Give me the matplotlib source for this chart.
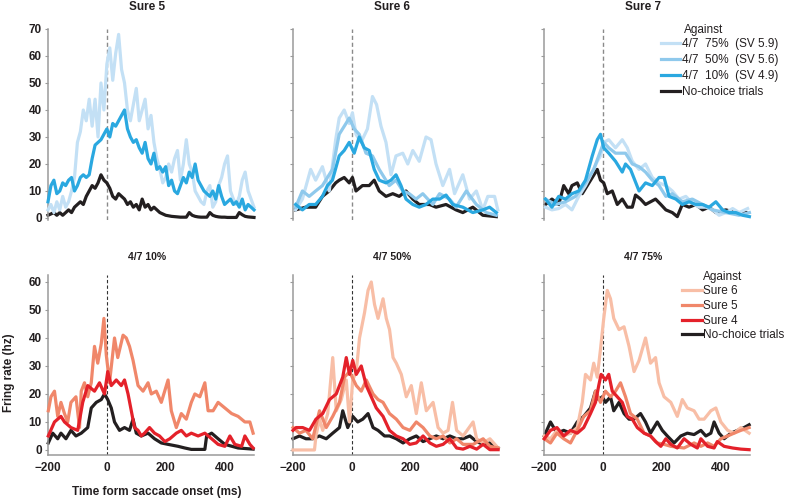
import matplotlib
matplotlib.use("Agg")
import matplotlib.pyplot as plt
from matplotlib.lines import Line2D

plt.rcParams['font.family'] = ['Liberation Sans', 'DejaVu Sans']

# ---------------- DATA (time in ms, firing rate in Hz) ----------------
# Top row, panel "Sure 5" (10 ms grid)
s5_t = list(range(-200, 510, 10))
s5_75 = [3, 5, 2, 6, 3, 8, 4, 6, 10, 15,
         28, 32, 40, 36, 44, 34, 44, 30, 50, 40,
         57, 63, 51, 61, 68, 55, 50, 40, 36, 42,
         48, 36, 40, 44, 33, 38, 28, 22, 18, 13,
         15, 20, 17, 22, 25, 14, 20, 29, 20, 17,
         10, 8, 6, 5, 10, 12, 4, 6, 12, 15,
         20, 23, 10, 7, 5, 8, 14, 17, 10, 7,
         4]
s5_10 = [6, 12, 14, 9, 10, 13, 12, 14, 15, 10,
         12, 15, 16, 15, 16, 22, 27, 28, 29, 31,
         33, 30, 35, 34, 36, 38, 40, 33, 30, 28,
         29, 26, 24, 28, 22, 20, 24, 18, 19, 17,
         19, 12, 14, 10, 9, 12, 15, 13, 17, 15,
         20, 14, 12, 10, 9, 8, 10, 7, 12, 8,
         5, 6, 7, 5, 6, 4, 7, 3, 5, 4,
         3]
s5_nc = [1, 1.5, 2, 1, 2, 1, 2, 3, 2, 4,
         5, 6, 5, 8, 10, 12, 11, 13, 16, 14,
         13, 11, 8, 7, 9, 8, 7, 5, 6, 4,
         5, 3, 7, 4, 5, 3, 4, 3, 2, 1.5,
         1, 0.8, 0.6, 0.5, 0.4, 0.3, 0.3, 0.3, 2, 1,
         0.6, 0.4, 0.3, 0.3, 0.3, 2, 1, 0.6, 0.4, 0.3,
         0.3, 0.2, 0.2, 0.2, 0.2, 2, 1.2, 0.6, 0.4, 0.3,
         0.2]

# Top row, panel "Sure 6"
s6_75_t = [-191, -168, -140, -123, -100, -77, -55, -43, -26, -9, 2, 14, 31, 53, 70, 84, 99, 116, 133,
           150, 173, 190, 207, 229, 252, 269, 286, 309, 332, 349, 377, 400, 423, 445, 462, 485, 496]
s6_75 = [3, 7, 18, 14, 19, 10, 29, 37, 40, 35, 39, 31, 28, 33, 45, 42, 34, 28, 16,
         23, 24, 20, 25, 21, 30, 29, 20, 12, 18, 9, 16, 7, 10, 3, 8, 8, 3]
s6_50_t = [-191, -168, -145, -123, -100, -66, -43, -20, -9, 8, 25, 48, 70, 93, 127, 150, 173, 195,
           218, 241, 275, 298, 332, 354, 389, 423, 457, 491]
s6_50 = [4, 10, 8, 10, 12, 18, 31, 35, 37, 33, 31, 24, 23, 18, 12, 14, 10, 9,
         7, 9, 5, 9, 7, 4, 10, 5, 2, 1]
s6_10_t = [-191, -168, -145, -123, -100, -83, -66, -43, -26, -9, 8, 25, 42, 59, 76, 93, 116, 133,
           150, 167, 184, 207, 229, 252, 275, 298, 320, 343, 377, 411, 445, 468, 491]
s6_10 = [5, 3, 5, 5, 8, 12, 14, 23, 25, 28, 24, 30, 26, 25, 18, 14, 13, 14,
         16, 12, 7, 5, 4, 5, 7, 7, 8.5, 5, 4, 2, 3, 4, 2]
s6_nc_t = [-191, -157, -123, -100, -77, -55, -43, -26, -9, 2, 14, 36, 59, 76, 93, 116, 139, 161,
           184, 207, 229, 264, 286, 320, 354, 377, 411, 445, 491]
s6_nc = [3, 4, 4, 8, 10, 13, 14, 15, 13, 15, 10, 12, 12, 14, 10, 8, 9, 8,
         10, 7, 5, 5, 4, 5, 3, 2, 4, 1, 0.5]

# Top row, panel "Sure 7"
s7_75_t = [-195, -173, -150, -127, -105, -82, -59, -36, -19, -8, 3, 20, 43, 66, 83, 100, 123,
           145, 168, 191, 214, 236, 259, 282, 304, 327, 350, 373, 395, 418, 441, 463, 492]
s7_75 = [4, 3, 3.5, 5, 3, 8, 12, 17, 21, 23, 28, 29, 26, 29, 26, 21, 18,
         20, 15, 13, 12, 10, 7, 8, 5.5, 4, 4, 3, 1, 2, 3.5, 2, 3.5]
s7_50_t = [-195, -161, -127, -93, -59, -31, -14, 3, 20, 43, 77, 100, 123, 145, 168, 191, 214,
           236, 270, 304, 339, 373, 418, 463, 498]
s7_50 = [7, 5, 6, 8, 13, 18, 23, 28, 26, 24, 24, 20, 19, 17, 14, 12, 8,
         9, 6, 7, 5, 3, 2, 1, 2]
s7_10_t = [-195, -173, -150, -127, -105, -82, -59, -36, -19, -8, 3, 20, 43, 66, 77, 94, 123,
           145, 168, 191, 208, 225, 248, 270, 293, 316, 339, 361, 384, 407, 429, 452, 475, 498]
s7_10 = [7, 4, 8, 7, 9, 10, 14, 23, 29, 31, 26, 24, 21, 17, 20, 18, 10,
         13, 12, 15, 15, 8, 7, 5, 6, 5, 5, 4, 6, 3, 2, 2, 1, 0.5]
s7_nc_t = [-195, -173, -150, -133, -116, -105, -87, -70, -53, -36, -19, -8, 3, 15, 32, 49, 66,
           83, 100, 111, 128, 145, 162, 179, 197, 214, 236, 253, 270, 293, 316, 339, 361, 384,
           418, 452, 486]
s7_nc = [5, 7, 5, 12, 9, 12, 13, 9, 12, 15, 18, 14, 13, 9, 10, 5, 7,
         4, 4, 8.5, 7, 5, 6, 7, 5, 3, 2, 0.5, 5, 4, 5, 3, 4, 2,
         3, 2, 2]

# Bottom row, panel "4/7 10%"
p10_s5_t = [-199, -190, -178, -167, -156, -144, -133, -122, -105, -93, -87, -76, -65, -53, -42, -31,
            -19, -10, -2, 9, 26, 37, 55, 66, 77, 89, 106, 123, 140, 151, 168, 185, 208, 219, 236,
            253, 270, 287, 299, 316, 333, 344, 361, 378, 401, 424, 446, 469, 486, 497]
p10_s5 = [14, 19, 21, 12, 17, 13, 10, 17, 19, 8, 21, 24, 19, 24, 37, 31,
          38, 47, 34, 24, 40, 33, 41, 40, 37, 32, 23, 21, 24, 20, 21, 17, 25, 14, 8,
          13, 11, 17, 20, 19, 24, 14, 14, 17, 15, 13, 12, 10, 10, 6]
p10_s4_t = [-199, -178, -156, -144, -122, -99, -82, -65, -42, -25, -8, 3, 15, 32, 49, 60, 72, 83,
            94, 106, 117, 128, 145, 162, 179, 197, 214, 236, 253, 270, 287, 310, 333, 356, 378,
            401, 418, 435, 458, 469, 486, 497]
p10_s4 = [5, 10, 12, 10, 8, 7, 17, 23, 21, 24, 20, 28, 23, 25, 23, 25, 20, 14,
          8, 7, 5, 6, 8, 6, 5, 3, 4, 6, 7, 5, 6, 5, 6, 4, 2,
          1.3, 5, 2, 1.3, 5, 2, 0.7]
p10_nc_t = [-199, -184, -167, -156, -139, -122, -105, -87, -65, -53, -36, -19, -8, 3, 15, 26, 43, 60,
            77, 89, 100, 117, 140, 162, 185, 208, 242, 265, 287, 333, 339, 356, 378, 401, 446, 497]
p10_nc = [2.5, 6, 4, 6, 4, 7, 5, 6, 8, 15, 17, 18, 20, 18, 15, 10, 7, 8,
          7, 11, 6, 5, 6, 4, 2.5, 2, 1.3, 0.7, 0.2, 0.2, 5, 6, 4, 2, 0.7, 0.3]

# Bottom row, panel "4/7 50%"
p50_s6_t = [-200, -127, -122, -110, -99, -82, -65, -53, -36, -19, -8, 3, 15, 26, 43, 55, 66, 77, 89,
            106, 117, 128, 140, 151, 168, 185, 202, 219, 236, 253, 276, 293, 310, 327, 342, 356,
            378, 412, 424, 446, 469, 497]
p50_s6 = [0, 0, 5, 11, 7, 13, 33, 14, 18, 25, 10, 25, 28, 40, 49, 57, 60, 52, 47,
          54, 47, 43, 33, 31, 27, 19, 23, 13, 24, 14, 17, 8, 6, 7, 17, 7,
          5, 10, 4, 2.5, 4, 0.7]
p50_s5_t = [-200, -178, -156, -133, -110, -87, -65, -42, -25, -8, 15, 32, 49, 72, 89, 106, 128,
            151, 174, 197, 219, 242, 265, 287, 310, 333, 356, 378, 412, 446, 469, 497]
p50_s5 = [8, 6, 7, 4, 14, 8, 12, 17, 26, 28, 23, 21, 25, 20, 18, 17, 13,
          11, 8, 7, 10, 8, 5, 4, 5, 2.5, 4, 2, 2, 4, 1.3, 0.7]
p50_s4_t = [-200, -190, -167, -144, -122, -99, -76, -53, -31, -19, -8, 3, 15, 32, 49, 66, 83, 106,
            128, 151, 174, 197, 219, 242, 265, 287, 310, 333, 356, 378, 401, 424, 446, 469, 497]
p50_s4 = [7, 8, 8, 7, 11, 13, 18, 20, 26, 33, 27, 32, 27, 30, 23, 19, 15, 12,
          7, 5, 4, 2, 2.5, 5, 2.5, 1.3, 2, 4, 0.7, 0.3, 1.3, 0.3, 2, 0.1, 0.1]
p50_nc_t = [-200, -178, -156, -133, -110, -87, -65, -42, -31, -14, 3, 20, 37, 55, 72, 89, 111,
            128, 151, 174, 197, 219, 242, 265, 287, 310, 333, 356, 378, 401, 424, 446, 469, 497]
p50_nc = [4, 5, 4, 4, 5, 4, 6, 8, 14, 8, 12, 10, 11, 13, 8, 7, 5,
          5, 4, 2.5, 4, 5, 3, 4, 5, 4, 5, 4, 4, 5, 3, 2, 2.5, 0.7]

# Bottom row, panel "4/7 75%"
p75_s6_t = [-199, -178, -156, -133, -110, -87, -70, -59, -42, -31, -19, -8, 3, 15, 26, 37, 55, 72,
            89, 106, 123, 145, 162, 179, 191, 208, 231, 253, 270, 287, 310, 327, 344, 367, 384,
            401, 424, 446, 469, 497]
p75_s6 = [5, 4, 7, 5, 6, 8, 17, 27, 25, 31, 26, 36, 47, 57, 54, 47, 43, 44,
          37, 28, 32, 40, 31, 33, 24, 19, 17, 12, 18, 15, 14, 11, 11, 14, 15,
          10, 7, 6, 8, 6]
p75_s5_t = [-199, -178, -156, -133, -110, -87, -65, -42, -25, -8, 9, 26, 43, 60, 77, 94, 117,
            140, 162, 185, 208, 231, 253, 276, 310, 333, 356, 378, 401, 424, 446, 469, 497]
p75_s5 = [4, 2.5, 6, 4, 2.5, 7, 12, 14, 21, 17, 21, 19, 21, 24, 19, 13, 11,
          6, 5, 2.5, 2, 1.3, 1, 0.7, 2.5, 1.3, 2.5, 1.3, 4, 5, 6, 7, 8]
p75_s4_t = [-199, -178, -156, -133, -110, -87, -65, -42, -25, -14, -6, 9, 20, 32, 49, 66, 83, 100,
            117, 140, 162, 179, 197, 214, 231, 253, 276, 299, 321, 333, 356, 378, 389, 412, 441,
            469, 497]
p75_s4 = [4, 7, 8, 5, 7, 6, 8, 13, 17, 23, 27, 25, 27, 21, 19, 17, 12, 11,
          8, 6, 5, 3, 1.3, 4, 2, 0.7, 4, 2, 0.7, 4, 1.3, 0.7, 3, 1.3, 0.7,
          0.3, 0.1]
p75_nc_t = [-199, -178, -156, -133, -110, -87, -65, -42, -25, -14, -2, 9, 26, 37, 55, 72, 89, 106,
            128, 145, 162, 185, 202, 219, 242, 265, 287, 310, 333, 350, 367, 378, 395, 412, 435,
            458, 480, 497]
p75_nc = [5, 10, 6, 7, 6, 10, 12, 15, 21, 18, 19, 17, 19, 14, 17, 13, 11, 11,
          13, 10, 6, 10, 7, 5, 2.5, 5, 6, 5.5, 7, 5, 6, 10, 6, 4, 6,
          7, 8, 9]

top_titles = ["Sure 5", "Sure 6", "Sure 7"]
bottom_titles = ["4/7 10%", "4/7 50%", "4/7 75%"]
top_legend_labels = ["4/7  75%  (SV 5.9)", "4/7  50%  (SV 5.6)", "4/7  10%  (SV 4.9)", "No-choice trials"]
bottom_legend_labels = ["Sure 6", "Sure 5", "Sure 4", "No-choice trials"]
top_yticks = [0, 10, 20, 30, 40, 50, 60, 70]
bottom_yticks = [0, 10, 20, 30, 40, 50, 60]
xticks = [-200, 0, 200, 400]

# ---------------- STYLE ----------------
C_B75, C_B50, C_B10 = "#c3e0f5", "#8fc9ec", "#2aa8e0"
C_R6, C_R5, C_R4 = "#f8bea6", "#f0876a", "#e4212a"
C_NC = "#231f20"
SPINE = "#9a9a9a"
LW = 2.3

W, H = 790.0, 501.0
fig = plt.figure(figsize=(7.9, 5.01), dpi=100)


def add_ax(left, top, right, bottom):
    return fig.add_axes([left / W, 1 - bottom / H, (right - left) / W, (bottom - top) / H])


lefts = [48, 293, 544]
width = 206

top_axes = [add_ax(l, 29, l + width, 219.6) for l in lefts]
bot_axes = [add_ax(l, 275, l + width, 455) for l in lefts]

top_data = [
    [(s5_t, s5_75, C_B75), (s5_t, s5_10, C_B10)],
    [(s6_75_t, s6_75, C_B75), (s6_50_t, s6_50, C_B50), (s6_10_t, s6_10, C_B10)],
    [(s7_75_t, s7_75, C_B75), (s7_50_t, s7_50, C_B50), (s7_10_t, s7_10, C_B10)],
]
top_nc = [(s5_t, s5_nc), (s6_nc_t, s6_nc), (s7_nc_t, s7_nc)]

bot_data = [
    [(p10_s5_t, p10_s5, C_R5), (p10_s4_t, p10_s4, C_R4)],
    [(p50_s6_t, p50_s6, C_R6), (p50_s5_t, p50_s5, C_R5), (p50_s4_t, p50_s4, C_R4)],
    [(p75_s6_t, p75_s6, C_R6), (p75_s5_t, p75_s5, C_R5), (p75_s4_t, p75_s4, C_R4)],
]
bot_nc = [(p10_nc_t, p10_nc), (p50_nc_t, p50_nc), (p75_nc_t, p75_nc)]


def style(ax, yticks, show_ylabels, bottom_spine):
    for s in ["top", "right"]:
        ax.spines[s].set_visible(False)
    ax.spines["left"].set_color(SPINE)
    ax.spines["left"].set_linewidth(1.1)
    if bottom_spine:
        ax.spines["bottom"].set_color(SPINE)
        ax.spines["bottom"].set_linewidth(1.1)
        ax.set_xticks(xticks)
        ax.tick_params(axis="x", length=0, pad=5, labelsize=8.5, labelcolor="#231f20")
        for lab in ax.get_xticklabels():
            lab.set_fontweight("bold")
    else:
        ax.spines["bottom"].set_visible(False)
        ax.set_xticks([])
    ax.set_yticks(yticks)
    ax.tick_params(axis="y", length=2.5, width=0.8, color=SPINE, pad=2,
                   labelsize=8.5, labelcolor="#231f20", labelleft=show_ylabels)
    if show_ylabels:
        for lab in ax.get_yticklabels():
            lab.set_fontweight("bold")
    ax.set_xlim(-200, 500)
    ax.patch.set_visible(False)


for i, ax in enumerate(top_axes):
    ax.set_ylim(-0.6, 70)
    ax.axvline(0, color="#8a8a8a", lw=1.0, ls=(0, (3, 2)), zorder=1)
    ax.plot(*top_nc[i], color=C_NC, lw=LW, zorder=2, clip_on=False)
    for k, (t, v, c) in enumerate(top_data[i]):
        ax.plot(t, v, color=c, lw=LW, zorder=3 + k, clip_on=False)
    style(ax, top_yticks, i == 0, False)
    fig.text((lefts[i] + width / 2 - 4) / W, 1 - 7 / H, top_titles[i], ha="center", va="center",
             fontsize=8.5, fontweight="bold", color="#231f20")

for i, ax in enumerate(bot_axes):
    ax.set_ylim(-1.8, 62.5)
    ax.axvline(0, color="#333333", lw=0.8, ls=(0, (3, 2)), zorder=1)
    ax.plot(*bot_nc[i], color=C_NC, lw=LW, zorder=2, clip_on=False)
    for k, (t, v, c) in enumerate(bot_data[i]):
        ax.plot(t, v, color=c, lw=LW, zorder=3 + k, clip_on=False)
    style(ax, bottom_yticks, i == 0, True)
    fig.text((lefts[i] + width / 2 - 4) / W, 1 - 257 / H, bottom_titles[i], ha="center", va="center",
             fontsize=7.5, fontweight="bold", color="#231f20")

# axis labels
fig.text(9 / W, 1 - 373 / H, "Fring rate (hz)", rotation=90, ha="center", va="center",
         fontsize=8.5, fontweight="bold", color="#231f20")
fig.text(157 / W, 1 - 492 / H, "Time form saccade onset (ms)", ha="center", va="center",
         fontsize=8.5, fontweight="bold", color="#231f20")

# legends
top_handles = [Line2D([], [], color=c, lw=LW) for c in (C_B75, C_B50, C_B10, C_NC)]
leg1 = fig.legend(top_handles, top_legend_labels, loc="upper left",
                  bbox_to_anchor=(661 / W, 1 - 38.5 / H), frameon=False, borderpad=0,
                  borderaxespad=0, handlelength=1.6, handletextpad=0.2, labelspacing=0.33,
                  prop={"size": 8.5})
for t in leg1.get_texts():
    t.set_color("#231f20")
fig.text(684 / W, 1 - 30 / H, "Against", ha="left", va="center", fontsize=8.5, color="#231f20")

bot_handles = [Line2D([], [], color=c, lw=LW) for c in (C_R6, C_R5, C_R4, C_NC)]
leg2 = fig.legend(bot_handles, bottom_legend_labels, loc="upper left",
                  bbox_to_anchor=(682 / W, 1 - 285 / H), frameon=False, borderpad=0,
                  borderaxespad=0, handlelength=1.7, handletextpad=0.1, labelspacing=0.24,
                  prop={"size": 8.5})
for t in leg2.get_texts():
    t.set_color("#231f20")
fig.text(703 / W, 1 - 277 / H, "Against", ha="left", va="center", fontsize=8.5, color="#231f20")

fig.savefig("out.png", dpi=100)
